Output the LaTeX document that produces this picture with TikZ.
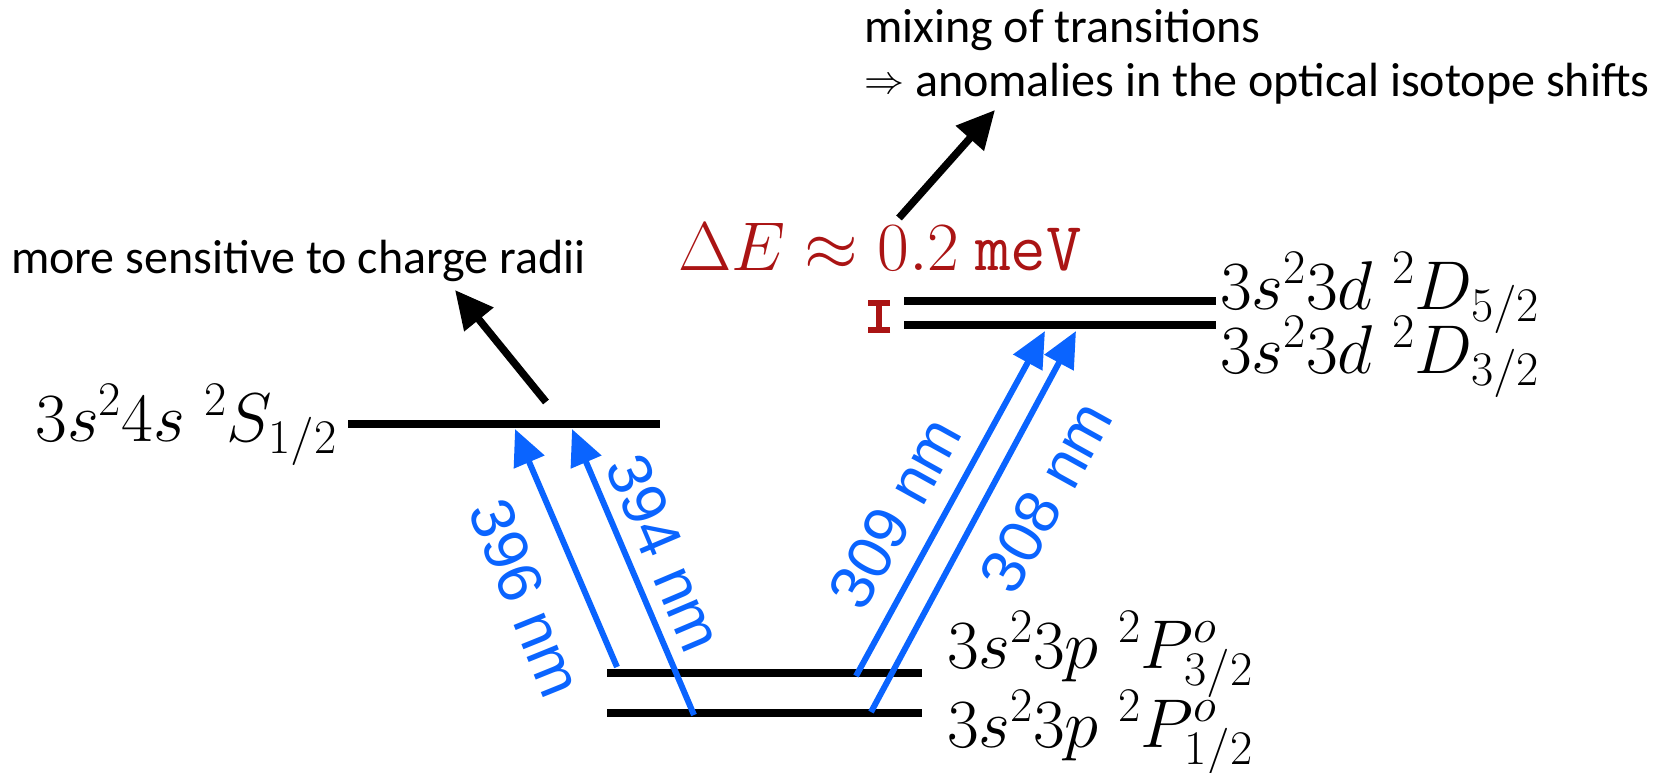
\RequirePackage{fix-cm}
\documentclass[tikz,border=0pt]{standalone}
\usepackage[no-math]{fontspec}
\setmainfont{Carlito}
\newfontfamily\nmfont{Liberation Sans}
\usetikzlibrary{arrows.meta}
\definecolor{lineblue}{RGB}{10,100,255}
\definecolor{darkred}{RGB}{170,20,20}

\begin{document}
\begin{tikzpicture}[x=1pt, y=-1pt,
    level/.style={line width=7.5pt},
    trans/.style={lineblue, line width=6pt, -{Triangle[length=36pt,width=32pt]}},
    pointer/.style={line width=7.5pt, -{Triangle[length=38pt,width=36pt]}},
    term/.style={inner sep=0pt, font=\fontsize{69}{76}\selectfont},
    nmlabel/.style={inner sep=0pt, lineblue, font=\nmfont\fontsize{62}{68}\selectfont},
    note/.style={inner sep=0pt, font=\fontsize{48}{56}\selectfont}]
    \useasboundingbox (0,0) rectangle (1662,772);

    % Levels
    \draw[level] (348,424) coordinate (S1) -- (660,424) coordinate (S2);
    \draw[level] (904,301) coordinate (D5a) -- (1216,301) coordinate (D5b);
    \draw[level] (904,325) coordinate (D3a) -- (1216,325) coordinate (D3b);
    \draw[level] (607,673) coordinate (P3a) -- (922,673) coordinate (P3b);
    \draw[level] (607,713) coordinate (P1a) -- (922,713) coordinate (P1b);

    % Term labels
    \node[term, anchor=base east] (tS) at (337,441) {$3s^2 4s\;{}^2S_{1/2}$};
    \node[term, anchor=base west] (tD5) at (1220,309) {$3s^2 3d\;{}^2D_{5/2}$};
    \node[term, anchor=base west] (tD3) at (1220,373) {$3s^2 3d\;{}^2D_{3/2}$};
    \node[term, anchor=base west] (tP3) at (947,668) {$3s^2 3p\;{}^2P^o_{3/2}$};
    \node[term, anchor=base west] (tP1) at (947,747) {$3s^2 3p\;{}^2P^o_{1/2}$};

    % Transitions
    \coordinate (a396) at (617,667);
    \coordinate (b396) at (515,429);
    \coordinate (a394) at (694,715);
    \coordinate (b394) at (572,429);
    \coordinate (a309) at (856,676);
    \coordinate (b309) at (1045,331);
    \coordinate (a308) at (871,712);
    \coordinate (b308) at (1076,331);
    \draw[trans] (a396) -- (b396);
    \draw[trans] (a394) -- (b394);
    \draw[trans] (a309) -- (b309);
    \draw[trans] (a308) -- (b308);
    \node[nmlabel, rotate=-68] (l396) at (526,598) {396 nm};
    \node[nmlabel, rotate=-67] (l394) at (665,553) {394 nm};
    \node[nmlabel, rotate=61] (l309) at (895,513) {309 nm};
    \node[nmlabel, rotate=61] (l308) at (1046,497) {308 nm};

    % Splitting
    \node[term, darkred, anchor=base west] (dE) at (678,270) {$\Delta E\approx 0.2\ \mathtt{meV}$};
    \draw[darkred, line width=6pt, {Bar[width=22pt]}-{Bar[width=22pt]}] (879,300) -- (879,333);

    % Notes
    \node[note, anchor=base west] (radii) at (11,273) {more sensitive to charge radii};
    \node[note, anchor=base west] (mix1) at (864,42) {mixing of transitions};
    \node[note, anchor=base west] (mix2) at (864,96) {\raisebox{3pt}{\fontsize{40}{44}\selectfont$\Rightarrow$} anomalies in the optical isotope shifts};
    \coordinate (r0) at (546,402);
    \coordinate (r1) at (455,290);
    \coordinate (m0) at (899,218);
    \coordinate (m1) at (995,110);
    \draw[pointer] (r0) -- (r1);
    \draw[pointer] (m0) -- (m1);
\end{tikzpicture}
\end{document}
